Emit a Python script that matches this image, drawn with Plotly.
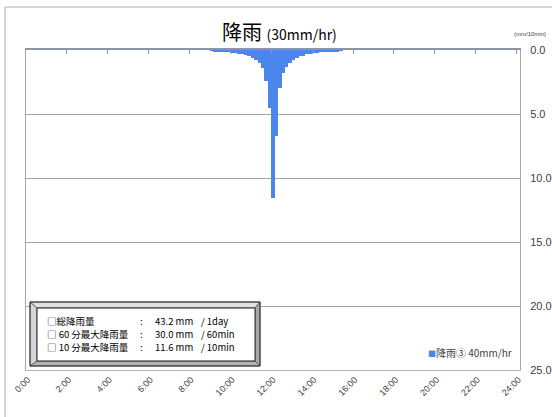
import plotly.graph_objects as go

# 10-minute rainfall (mm) for each category 0:00 .. 24:00 (145 categories)
rain_before = [0.0] * 54
rain_storm = [
    0.07, 0.09, 0.11, 0.13, 0.16, 0.19, 0.22, 0.26, 0.30, 0.35,   # 9:00 ..
    0.42, 0.50, 0.62, 0.78, 1.00, 1.40, 2.40, 4.50, 11.6, 6.70,   # .. 12:10
    3.00, 1.80, 1.35, 0.98, 0.76, 0.62, 0.50, 0.44, 0.34, 0.29,   # .. 13:50
    0.25, 0.22, 0.19, 0.16, 0.14, 0.12, 0.10, 0.08, 0.06,
]
rain_after = [0.0] * (145 - len(rain_before) - len(rain_storm))
rain_mm = rain_before + rain_storm + rain_after

category_labels = [f"{(i * 10) // 60}:{(i * 10) % 60:02d}" for i in range(145)]
hour_labels = ["0:00", "2:00", "4:00", "6:00", "8:00", "10:00", "12:00",
               "14:00", "16:00", "18:00", "20:00", "22:00", "24:00"]
y_ticks = [0, 5, 10, 15, 20, 25]

series_name = "降雨③ 40mm/hr"
summary_names = ["□総降雨量", "□ 60 分最大降雨量", "□ 10 分最大降雨量"]
summary_values = ["43.2 mm", "30.0 mm", "11.6 mm"]
summary_units = ["/ 1day", "/ 60min", "/ 10min"]

BAR_COLOR = "#4a86ec"
W, H = 552, 417
L, R, T, B = 26, 32, 50, 47
PW, PH = W - L - R, H - T - B


def px(x):
    return (x - L) / PW


def py(y):
    return (H - B - y) / PH


bar_x = [category_labels.index(c) + 0.5 for c in category_labels]

fig = go.Figure()
fig.add_trace(go.Bar(
    x=bar_x, y=rain_mm, width=1.0,
    marker=dict(color=BAR_COLOR, line=dict(width=0)),
    name=series_name, showlegend=False,
))
# invisible trace carrying the top axis (tick marks along the 0.0 line)
fig.add_trace(go.Scatter(x=[0, 145], y=[0, 0], xaxis="x2", mode="lines",
                         line=dict(width=0), hoverinfo="skip", showlegend=False))

fig.update_layout(
    width=W, height=H,
    margin=dict(l=L, r=R, t=T, b=B),
    paper_bgcolor="white", plot_bgcolor="white",
    bargap=0,
    font=dict(family="Liberation Sans, Noto Sans CJK JP", color="#404040"),
    xaxis=dict(
        range=[0, 145], showgrid=False, zeroline=False, automargin=False,
        tickvals=[category_labels.index(h) + 0.5 if h != "24:00" else 144.5 for h in hour_labels],
        ticktext=hour_labels, tickangle=-45, ticks="",
        tickfont=dict(size=9, color="#404040", family="Liberation Sans"),
        showline=True, linecolor="#b4b4b4", linewidth=1,
    ),
    xaxis2=dict(
        range=[0, 145], overlaying="x", side="top", anchor="y",
        tickvals=[i * 12 for i in range(13)], showticklabels=False,
        ticks="inside", ticklen=4, tickcolor="#8a96a8", automargin=False,
        showline=True, linecolor="#8a96a8", linewidth=1.5,
        showgrid=False, zeroline=False,
    ),
    yaxis=dict(
        range=[25, 0], side="right", tickvals=y_ticks, tickformat=".1f",
        showgrid=True, gridcolor="#a6a6a6", gridwidth=1, automargin=False,
        zeroline=False, showline=True, linecolor="#a6a6a6", mirror=True,
        ticks="", ticklabelstandoff=7,
        tickfont=dict(size=11, color="#404040", family="Liberation Sans"),
    ),
)

shapes = []
# chart-area border (left and top edges)
shapes.append(dict(type="line", xref="paper", yref="paper",
                   x0=px(5), x1=px(5), y0=py(7), y1=py(H + 5),
                   line=dict(color="#c8c8c8", width=1.5)))
shapes.append(dict(type="line", xref="paper", yref="paper",
                   x0=px(5), x1=px(W + 5), y0=py(7), y1=py(7),
                   line=dict(color="#c8c8c8", width=1.5)))

# beveled summary box
ox0, oy0, ox1, oy1 = 30, 302, 260, 366
ix0, iy0, ix1, iy1 = 37, 308, 255, 361


def poly(pts, fill):
    d = "M " + " L ".join(f"{px(a)},{py(b)}" for a, b in pts) + " Z"
    return dict(type="path", xref="paper", yref="paper", path=d,
                fillcolor=fill, line=dict(color="#555555", width=0.8))


shapes.append(poly([(ox0, oy0), (ox1, oy0), (ix1, iy0), (ix0, iy0)], "#e2e2e2"))
shapes.append(poly([(ox0, oy0), (ix0, iy0), (ix0, iy1), (ox0, oy1)], "#d6d6d6"))
shapes.append(poly([(ox1, oy0), (ox1, oy1), (ix1, iy1), (ix1, iy0)], "#a8a8a8"))
shapes.append(poly([(ox0, oy1), (ix0, iy1), (ix1, iy1), (ox1, oy1)], "#b4b4b4"))
shapes.append(dict(type="rect", xref="paper", yref="paper",
                   x0=px(ix0), x1=px(ix1), y0=py(iy0), y1=py(iy1),
                   fillcolor="white", line=dict(color="#222222", width=1)))
shapes.append(dict(type="rect", xref="paper", yref="paper",
                   x0=px(ox0), x1=px(ox1), y0=py(oy0), y1=py(oy1),
                   fillcolor="rgba(0,0,0,0)", line=dict(color="#333333", width=1)))
fig.update_layout(shapes=shapes)

ann = []
ann.append(dict(text="降雨 <span style='font-size:14px'>(30mm/hr)</span>",
                xref="paper", yref="paper", x=px(279), y=py(31),
                xanchor="center", yanchor="middle", showarrow=False,
                font=dict(size=20, color="#000000", family="Noto Sans CJK JP")))
ann.append(dict(text="(mm/10min)", xref="paper", yref="paper",
                x=px(530), y=py(34), xanchor="center", yanchor="middle",
                showarrow=False, font=dict(size=6, color="#404040")))
# series key
ann.append(dict(text=f"<span style='color:{BAR_COLOR};font-size:8px'>■</span>{series_name}",
                xref="paper", yref="paper", x=px(514), y=py(352),
                xanchor="right", yanchor="middle", showarrow=False,
                font=dict(size=10, color="#404040", family="Noto Sans CJK JP")))
rows_y = [321, 334, 346.5]
for name, val, unit, yy in zip(summary_names, summary_values, summary_units, rows_y):
    f = dict(size=9.5, color="#000000", family="Noto Sans CJK JP")
    ann.append(dict(text=name, xref="paper", yref="paper", x=px(45), y=py(yy),
                    xanchor="left", yanchor="middle", showarrow=False, font=f))
    ann.append(dict(text=":", xref="paper", yref="paper", x=px(141), y=py(yy),
                    xanchor="center", yanchor="middle", showarrow=False, font=f))
    ann.append(dict(text=val, xref="paper", yref="paper", x=px(153), y=py(yy),
                    xanchor="left", yanchor="middle", showarrow=False, font=f))
    ann.append(dict(text=unit, xref="paper", yref="paper", x=px(199), y=py(yy),
                    xanchor="left", yanchor="middle", showarrow=False, font=f))
fig.update_layout(annotations=ann)

fig.write_html("out.html")
